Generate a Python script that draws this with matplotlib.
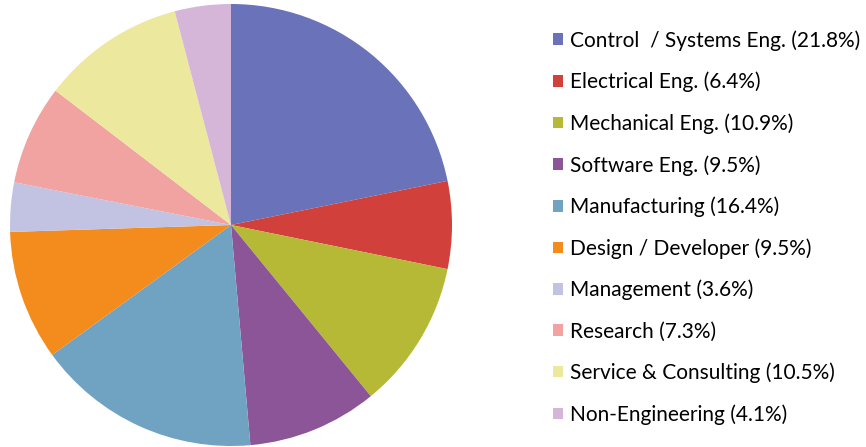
import matplotlib.pyplot as plt

plt.rc('font', family=['Lato', 'DejaVu Sans'])

categories = ['Control  / Systems Eng.', 'Electrical Eng.', 'Mechanical Eng.',
              'Software Eng.', 'Manufacturing', 'Design / Developer',
              'Management', 'Research', 'Service & Consulting', 'Non-Engineering']
shares = [21.8, 6.4, 10.9, 9.5, 16.4, 9.5, 3.6, 7.3, 10.5, 4.1]
colors = ['#6a72b9', '#d1403b', '#b6b936', '#8b5598', '#6fa3c1',
          '#f38b1d', '#c2c3e3', '#f1a3a1', '#ece89d', '#d5b5d8']

fig = plt.figure(figsize=(8.66, 4.47), dpi=100)
ax = fig.add_axes([10 / 866, 1 / 447, 442 / 866, 442 / 447])
wedges, _ = ax.pie(shares, colors=colors, startangle=90, counterclock=False,
                   radius=1.0)
ax.set_xlim(-1, 1)
ax.set_ylim(-1, 1)
ax.set_aspect('equal')

labels = ['%s (%.1f%%)' % (c, s) for c, s in zip(categories, shares)]
fig.legend(wedges, labels, loc='upper left', bbox_to_anchor=(553 / 866, 1 - 30 / 447),
           frameon=False, fontsize=15, handlelength=0.48, handleheight=0.48,
           handletextpad=0.35, labelspacing=1.01, borderpad=0, borderaxespad=0)

fig.savefig('out.png', dpi=100)
